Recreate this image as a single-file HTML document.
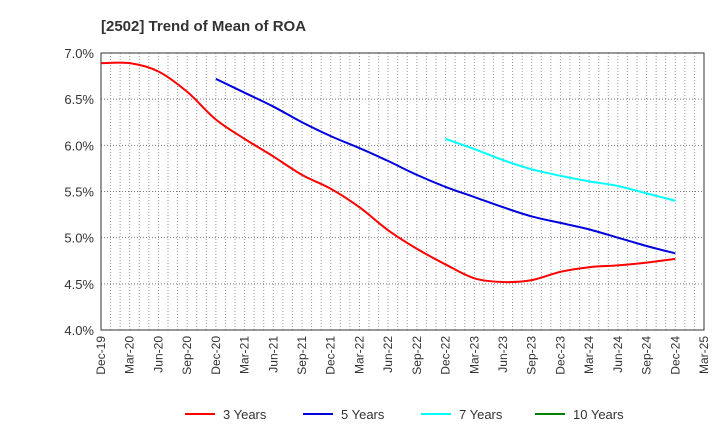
<!DOCTYPE html>
<html><head><meta charset="utf-8"><style>
body{margin:0;background:#fff;font-family:"Liberation Sans",sans-serif}
svg text{font-family:"Liberation Sans",sans-serif}
</style></head><body>
<svg width="720" height="440" id="c">
<text x="101" y="31" font-size="15" font-weight="bold" fill="#333">[2502]  Trend of Mean of ROA</text>
<g id="grid"></g><g id="axes"></g><g id="series"></g><g id="legend"></g>
</svg>
<script>
const xLabels=["Dec-19","Mar-20","Jun-20","Sep-20","Dec-20","Mar-21","Jun-21","Sep-21","Dec-21","Mar-22","Jun-22","Sep-22","Dec-22","Mar-23","Jun-23","Sep-23","Dec-23","Mar-24","Jun-24","Sep-24","Dec-24","Mar-25"];
const yTicks=[4.0,4.5,5.0,5.5,6.0,6.5,7.0];
const s3=[6.89,6.89,6.80,6.58,6.28,6.07,5.88,5.68,5.53,5.33,5.08,4.88,4.71,4.56,4.52,4.54,4.63,4.68,4.70,4.73,4.77];
const s5Start=4;
const s5=[6.72,6.57,6.42,6.25,6.10,5.97,5.83,5.68,5.55,5.44,5.33,5.23,5.16,5.09,5.00,4.91,4.83];
const s7Start=12;
const s7=[6.07,5.96,5.84,5.74,5.67,5.61,5.56,5.48,5.40];
const s10Start=0;
const s10=[];
const L=101,R=704,T=53,B=330,ns="http://www.w3.org/2000/svg";
const xs=i=>L+i*(R-L)/(xLabels.length-1);
const ys=v=>B-(v-4)/(7-4)*(B-T);
function mk(t,a,p){const e=document.createElementNS(ns,t);for(const k in a)e.setAttribute(k,a[k]);p.appendChild(e);return e;}
const g=document.getElementById('grid'),ax=document.getElementById('axes'),sg=document.getElementById('series'),lg=document.getElementById('legend');
for(let m=1;m<63;m++){const x=L+m*(R-L)/63;
const l=mk('line',{x1:x,x2:x,y1:T,y2:B,stroke:'#999','stroke-dasharray':'1,2','stroke-width':1},g);

}
yTicks.forEach(v=>{const y=ys(v);
const l=mk('line',{x1:L,x2:R,y1:y,y2:y,stroke:'#777','stroke-dasharray':'1,2','stroke-width':1},g);


const t=mk('text',{x:L-7,y:y+5,'text-anchor':'end','font-size':13,fill:'#333'},ax);t.textContent=v.toFixed(1)+'%';

});
const fr=mk('rect',{x:L,y:T,width:R-L,height:B-T,fill:'none',stroke:'#333','stroke-width':1},ax);


xLabels.forEach((s,i)=>{const x=xs(i);
const t=mk('text',{x:0,y:0,'text-anchor':'end','font-size':12,fill:'#333',transform:`translate(${x+4},${B+6}) rotate(-90)`},ax);t.textContent=s;

});
function path(arr,start){const p=arr.map((v,i)=>[xs(start+i),ys(v)]);if(!p.length)return'';
let d=`M${p[0][0]},${p[0][1]}`;
for(let i=0;i<p.length-1;i++){const p0=p[i-1]||p[i],p1=p[i],p2=p[i+1],p3=p[i+2]||p2;
d+=`C${p1[0]+(p2[0]-p0[0])/6},${p1[1]+(p2[1]-p0[1])/6} ${p2[0]-(p3[0]-p1[0])/6},${p2[1]-(p3[1]-p1[1])/6} ${p2[0]},${p2[1]}`;}return d;}
[[s3,0,'#ff0000','line-3-years'],[s5,s5Start,'#0000dd','line-5-years'],[s7,s7Start,'#00ffff','line-7-years'],[s10,s10Start,'#008000','line-10-years']].forEach(([a,st,c,n])=>{
if(!a.length)return;const e=mk('path',{d:path(a,st),fill:'none',stroke:c,'stroke-width':2},sg);

});
[['3 Years','#ff0000',185],['5 Years','#0000dd',303],['7 Years','#00ffff',421],['10 Years','#008000',535]].forEach(([s,c,x])=>{
const gi=mk('g',{},lg);


mk('line',{x1:x,x2:x+30,y1:414,y2:414,stroke:c,'stroke-width':2},gi);
const t=mk('text',{x:x+38,y:419,'font-size':13,fill:'#333'},gi);t.textContent=s;});
</script>
</body></html>
